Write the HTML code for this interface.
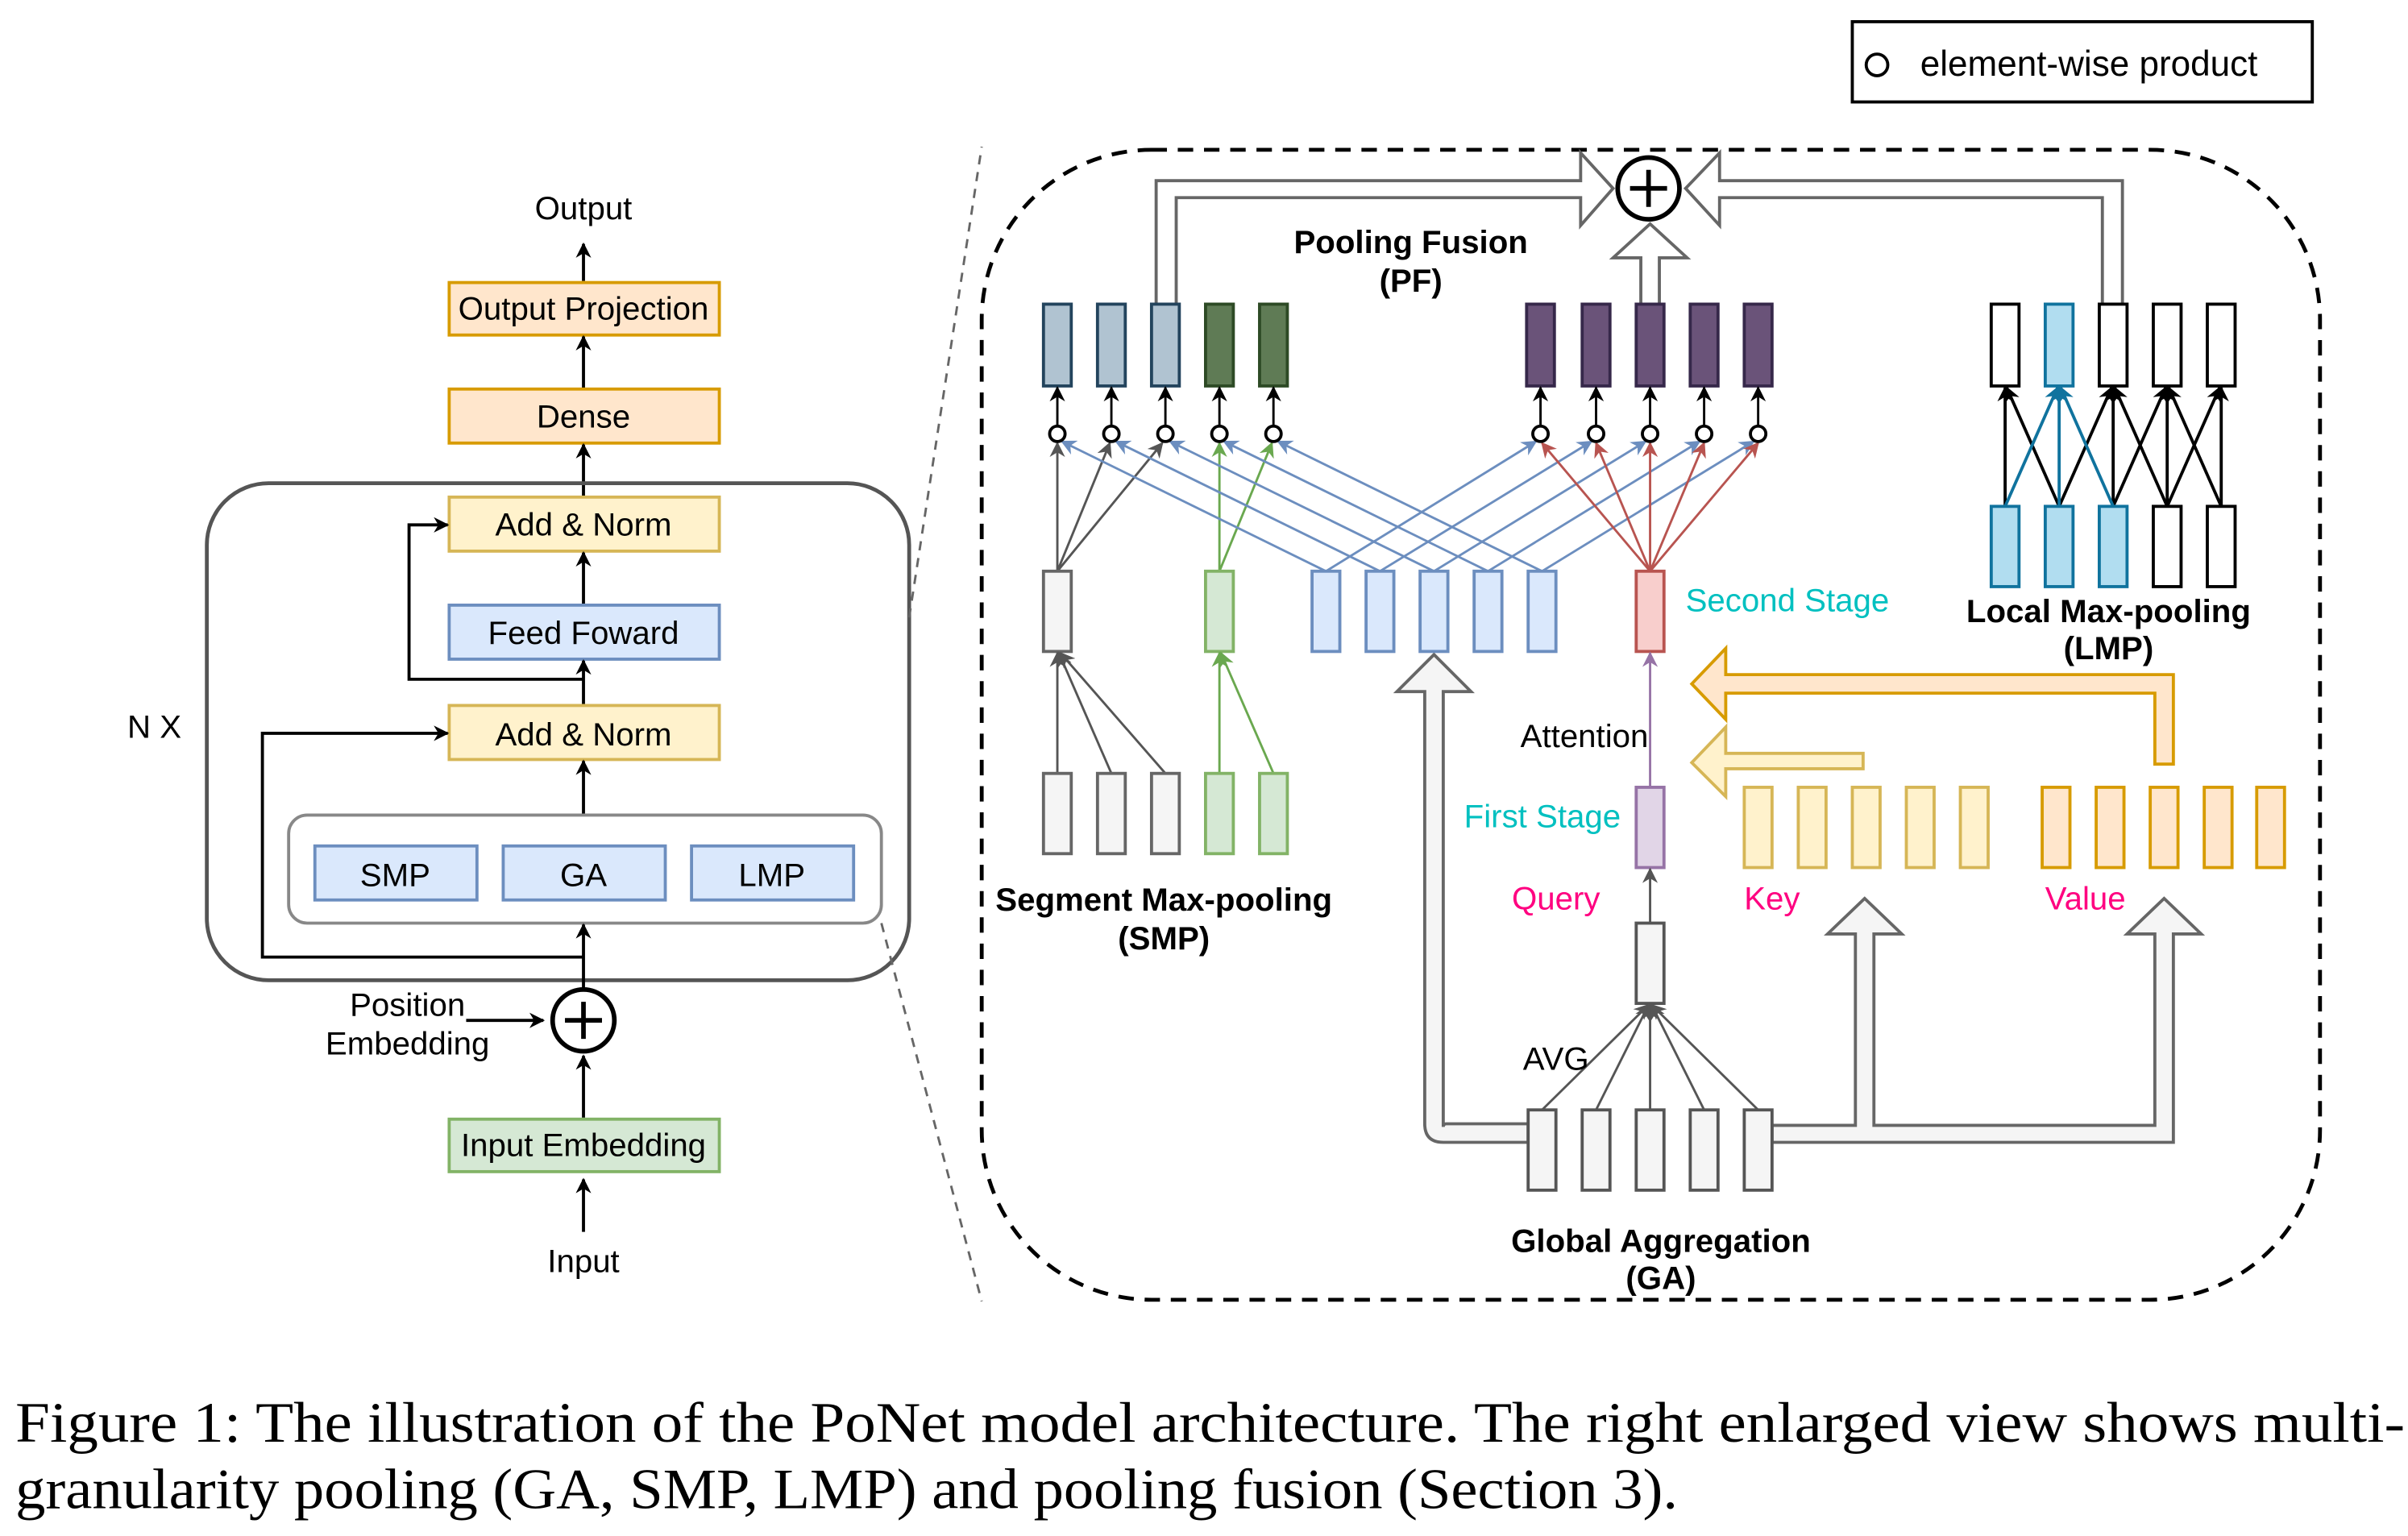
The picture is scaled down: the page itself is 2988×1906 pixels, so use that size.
<!DOCTYPE html>
<html><head><meta charset="utf-8"><style>
html,body{margin:0;padding:0;background:#fff;}
svg{display:block;}
text{font-family:"Liberation Sans",sans-serif;}
</style></head><body>
<svg xmlns="http://www.w3.org/2000/svg" width="2988" height="1906" viewBox="0 0 1560 995">
<defs>
<marker id="ab" markerWidth="10" markerHeight="10" refX="9" refY="5" orient="auto" markerUnits="userSpaceOnUse"><path d="M0,0 L10,5 L0,10 L3,5 z" fill="#000"/></marker>
<marker id="ag" markerWidth="10" markerHeight="10" refX="9" refY="5" orient="auto" markerUnits="userSpaceOnUse"><path d="M0,0 L10,5 L0,10 L3,5 z" fill="#555"/></marker>
<marker id="agr" markerWidth="10" markerHeight="10" refX="9" refY="5" orient="auto" markerUnits="userSpaceOnUse"><path d="M0,0 L10,5 L0,10 L3,5 z" fill="#6aa84f"/></marker>
<marker id="abl" markerWidth="10" markerHeight="10" refX="9" refY="5" orient="auto" markerUnits="userSpaceOnUse"><path d="M0,0 L10,5 L0,10 L3,5 z" fill="#6c8ebf"/></marker>
<marker id="ar" markerWidth="10" markerHeight="10" refX="9" refY="5" orient="auto" markerUnits="userSpaceOnUse"><path d="M0,0 L10,5 L0,10 L3,5 z" fill="#b85450"/></marker>
<marker id="ap" markerWidth="10" markerHeight="10" refX="9" refY="5" orient="auto" markerUnits="userSpaceOnUse"><path d="M0,0 L10,5 L0,10 L3,5 z" fill="#9673a6"/></marker>
<marker id="alb" markerWidth="10" markerHeight="10" refX="9" refY="5" orient="auto" markerUnits="userSpaceOnUse"><path d="M0,0 L10,5 L0,10 L3,5 z" fill="#10739e"/></marker>
</defs>

<rect x="1200" y="14" width="298" height="52" fill="#fff" stroke="#000" stroke-width="2"/>
<circle cx="1216" cy="42" r="7" fill="none" stroke="#000" stroke-width="2"/>
<text x="1244" y="49" font-size="23">element-wise product</text>

<g font-size="21" text-anchor="middle">
<text x="378" y="142">Output</text>
<line x1="378" y1="182" x2="378" y2="158" stroke="#000" stroke-width="2" marker-end="url(#ab)"/>
<rect x="291" y="183" width="175" height="34" fill="#ffe6cc" stroke="#d79b00" stroke-width="2"/>
<text x="378" y="207">Output Projection</text>
<line x1="378" y1="252" x2="378" y2="218" stroke="#000" stroke-width="2" marker-end="url(#ab)"/>
<rect x="291" y="252" width="175" height="35" fill="#ffe6cc" stroke="#d79b00" stroke-width="2"/>
<text x="378" y="277">Dense</text>
<line x1="378" y1="322" x2="378" y2="288" stroke="#000" stroke-width="2" marker-end="url(#ab)"/>
<rect x="134" y="313" width="455" height="322" rx="40" fill="none" stroke="#555" stroke-width="2.5"/>
<rect x="291" y="322" width="175" height="35" fill="#fff2cc" stroke="#d6b656" stroke-width="2"/>
<text x="378" y="347">Add &amp; Norm</text>
<line x1="378" y1="392" x2="378" y2="358" stroke="#000" stroke-width="2" marker-end="url(#ab)"/>
<rect x="291" y="392" width="175" height="35" fill="#dae8fc" stroke="#6c8ebf" stroke-width="2"/>
<text x="378" y="417">Feed Foward</text>
<line x1="378" y1="457" x2="378" y2="428" stroke="#000" stroke-width="2" marker-end="url(#ab)"/>
<polyline points="378,440 265,440 265,340 290,340" fill="none" stroke="#000" stroke-width="2" marker-end="url(#ab)"/>
<rect x="291" y="457" width="175" height="35" fill="#fff2cc" stroke="#d6b656" stroke-width="2"/>
<text x="378" y="483">Add &amp; Norm</text>
<line x1="378" y1="528" x2="378" y2="493" stroke="#000" stroke-width="2" marker-end="url(#ab)"/>
<rect x="187" y="528" width="384" height="70" rx="12" fill="none" stroke="#888" stroke-width="2"/>
<rect x="204" y="548" width="105" height="35" fill="#dae8fc" stroke="#6c8ebf" stroke-width="2"/>
<text x="256" y="574">SMP</text>
<rect x="326" y="548" width="105" height="35" fill="#dae8fc" stroke="#6c8ebf" stroke-width="2"/>
<text x="378" y="574">GA</text>
<rect x="448" y="548" width="105" height="35" fill="#dae8fc" stroke="#6c8ebf" stroke-width="2"/>
<text x="500" y="574">LMP</text>
<line x1="378" y1="640" x2="378" y2="599" stroke="#000" stroke-width="2" marker-end="url(#ab)"/>
<polyline points="378,620 170,620 170,475 290,475" fill="none" stroke="#000" stroke-width="2" marker-end="url(#ab)"/>
<text x="100" y="478">N X</text>
<circle cx="378" cy="661" r="20" fill="#fff" stroke="#000" stroke-width="3"/>
<line x1="366" y1="661" x2="390" y2="661" stroke="#000" stroke-width="3"/>
<line x1="378" y1="649" x2="378" y2="673" stroke="#000" stroke-width="3"/>
<text x="264" y="658">Position</text>
<text x="264" y="683">Embedding</text>
<line x1="302" y1="661" x2="352" y2="661" stroke="#000" stroke-width="2" marker-end="url(#ab)"/>
<line x1="378" y1="724" x2="378" y2="684" stroke="#000" stroke-width="2" marker-end="url(#ab)"/>
<rect x="291" y="725" width="175" height="34" fill="#d5e8d4" stroke="#82b366" stroke-width="2"/>
<text x="378" y="749">Input Embedding</text>
<line x1="378" y1="798" x2="378" y2="764" stroke="#000" stroke-width="2" marker-end="url(#ab)"/>
<text x="378" y="824">Input</text>
</g>
<line x1="589" y1="400" x2="636" y2="95" stroke="#666" stroke-width="1.5" stroke-dasharray="6,5"/>
<line x1="571" y1="598" x2="636" y2="843" stroke="#666" stroke-width="1.5" stroke-dasharray="6,5"/>

<rect x="636" y="97" width="867" height="745" rx="110" fill="none" stroke="#000" stroke-width="2.5" stroke-dasharray="10,7"/>

<path d="M749,197 L749,117 L1024,117 L1024,99 L1045,122 L1024,146 L1024,128 L762,128 L762,197 Z" fill="#fff" stroke="#666" stroke-width="2"/>
<path d="M1375,197 L1375,117 L1114,117 L1114,99 L1092,122 L1114,146 L1114,128 L1362,128 L1362,197 Z" fill="#fff" stroke="#666" stroke-width="2"/>
<path d="M1063,197 L1063,167 L1045,167 L1069,145 L1093,167 L1075,167 L1075,197 Z" fill="#fff" stroke="#666" stroke-width="2"/>
<circle cx="1068" cy="122" r="20" fill="#fff" stroke="#000" stroke-width="3"/>
<line x1="1056" y1="122" x2="1080" y2="122" stroke="#000" stroke-width="3"/>
<line x1="1068" y1="110" x2="1068" y2="134" stroke="#000" stroke-width="3"/>

<g font-weight="bold" font-size="21" text-anchor="middle">
<text x="914" y="164">Pooling Fusion</text>
<text x="914" y="189">(PF)</text>
<text x="754" y="590">Segment Max-pooling</text>
<text x="754" y="615">(SMP)</text>
<text x="1366" y="403">Local Max-pooling</text>
<text x="1366" y="427">(LMP)</text>
<text x="1076" y="811">Global Aggregation</text>
<text x="1076" y="835">(GA)</text>
</g>

<g stroke-width="2">
<rect x="676" y="197" width="18" height="53" fill="#b0c3d1" stroke="#23445d"/>
<rect x="711" y="197" width="18" height="53" fill="#b0c3d1" stroke="#23445d"/>
<rect x="746" y="197" width="18" height="53" fill="#b0c3d1" stroke="#23445d"/>
<rect x="781" y="197" width="18" height="53" fill="#5f7b55" stroke="#2d4a25"/>
<rect x="816" y="197" width="18" height="53" fill="#5f7b55" stroke="#2d4a25"/>
<rect x="989" y="197" width="18" height="53" fill="#6a5379" stroke="#36284a"/>
<rect x="1025" y="197" width="18" height="53" fill="#6a5379" stroke="#36284a"/>
<rect x="1060" y="197" width="18" height="53" fill="#6a5379" stroke="#36284a"/>
<rect x="1095" y="197" width="18" height="53" fill="#6a5379" stroke="#36284a"/>
<rect x="1130" y="197" width="18" height="53" fill="#6a5379" stroke="#36284a"/>
</g>
<g stroke="#000" stroke-width="1.5">
<line x1="685" y1="276" x2="685" y2="251" marker-end="url(#ab)"/>
<line x1="720" y1="276" x2="720" y2="251" marker-end="url(#ab)"/>
<line x1="755" y1="276" x2="755" y2="251" marker-end="url(#ab)"/>
<line x1="790" y1="276" x2="790" y2="251" marker-end="url(#ab)"/>
<line x1="825" y1="276" x2="825" y2="251" marker-end="url(#ab)"/>
<line x1="998" y1="276" x2="998" y2="251" marker-end="url(#ab)"/>
<line x1="1034" y1="276" x2="1034" y2="251" marker-end="url(#ab)"/>
<line x1="1069" y1="276" x2="1069" y2="251" marker-end="url(#ab)"/>
<line x1="1104" y1="276" x2="1104" y2="251" marker-end="url(#ab)"/>
<line x1="1139" y1="276" x2="1139" y2="251" marker-end="url(#ab)"/>
</g>
<g stroke="#555" stroke-width="1.5" fill="none">
<line x1="685" y1="370" x2="685" y2="287" marker-end="url(#ag)"/>
<line x1="685" y1="370" x2="719" y2="287" marker-end="url(#ag)"/>
<line x1="685" y1="370" x2="753" y2="287" marker-end="url(#ag)"/>
</g>
<g stroke="#6aa84f" stroke-width="1.5">
<line x1="790" y1="370" x2="790" y2="287" marker-end="url(#agr)"/>
<line x1="790" y1="370" x2="824" y2="287" marker-end="url(#agr)"/>
</g>
<g stroke="#6c8ebf" stroke-width="1.5">
<line x1="859" y1="370" x2="688" y2="286" marker-end="url(#abl)"/>
<line x1="894" y1="370" x2="723" y2="286" marker-end="url(#abl)"/>
<line x1="929" y1="370" x2="758" y2="286" marker-end="url(#abl)"/>
<line x1="964" y1="370" x2="793" y2="286" marker-end="url(#abl)"/>
<line x1="999" y1="370" x2="828" y2="286" marker-end="url(#abl)"/>
<line x1="859" y1="370" x2="995" y2="286" marker-end="url(#abl)"/>
<line x1="894" y1="370" x2="1031" y2="286" marker-end="url(#abl)"/>
<line x1="929" y1="370" x2="1066" y2="286" marker-end="url(#abl)"/>
<line x1="964" y1="370" x2="1101" y2="286" marker-end="url(#abl)"/>
<line x1="999" y1="370" x2="1136" y2="286" marker-end="url(#abl)"/>
</g>
<g stroke="#b85450" stroke-width="1.5">
<line x1="1069" y1="370" x2="999" y2="287" marker-end="url(#ar)"/>
<line x1="1069" y1="370" x2="1034" y2="287" marker-end="url(#ar)"/>
<line x1="1069" y1="370" x2="1069" y2="287" marker-end="url(#ar)"/>
<line x1="1069" y1="370" x2="1104" y2="287" marker-end="url(#ar)"/>
<line x1="1069" y1="370" x2="1139" y2="287" marker-end="url(#ar)"/>
</g>
<g fill="#fff" stroke="#000" stroke-width="2">
<circle cx="685" cy="281" r="5"/><circle cx="720" cy="281" r="5"/><circle cx="755" cy="281" r="5"/><circle cx="790" cy="281" r="5"/><circle cx="825" cy="281" r="5"/>
<circle cx="998" cy="281" r="5"/><circle cx="1034" cy="281" r="5"/><circle cx="1069" cy="281" r="5"/><circle cx="1104" cy="281" r="5"/><circle cx="1139" cy="281" r="5"/>
</g>

<path d="M990,740 L935,740 Q923,740 923,728 L923,448 L905,448 L929,424 L953,448 L935,448 L935,730 Q935,728 937,728 L990,728 Z" fill="#f5f5f5" stroke="#666" stroke-width="2"/>
<path d="M1148,740 L1408,740 L1408,605 L1426,605 L1402,582 L1378,605 L1396,605 L1396,729 L1214,729 L1214,605 L1232,605 L1208,582 L1184,605 L1202,605 L1202,729 L1148,729 Z" fill="#f5f5f5" stroke="#666" stroke-width="2"/>

<path d="M1408,495 L1408,437 L1118,437 L1118,420 L1096,443 L1118,466 L1118,449 L1396,449 L1396,495 Z" fill="#ffe6cc" stroke="#d79b00" stroke-width="2"/>
<path d="M1207,488 L1118,488 L1118,471 L1096,494 L1118,516 L1118,498 L1207,498 Z" fill="#fff2cc" stroke="#d6b656" stroke-width="2"/>

<g stroke-width="2">
<rect x="676" y="370" width="18" height="52" fill="#f5f5f5" stroke="#666"/>
<rect x="781" y="370" width="18" height="52" fill="#d5e8d4" stroke="#82b366"/>
<rect x="850" y="370" width="18" height="52" fill="#dae8fc" stroke="#6c8ebf"/>
<rect x="885" y="370" width="18" height="52" fill="#dae8fc" stroke="#6c8ebf"/>
<rect x="920" y="370" width="18" height="52" fill="#dae8fc" stroke="#6c8ebf"/>
<rect x="955" y="370" width="18" height="52" fill="#dae8fc" stroke="#6c8ebf"/>
<rect x="990" y="370" width="18" height="52" fill="#dae8fc" stroke="#6c8ebf"/>
<rect x="1060" y="370" width="18" height="52" fill="#f8cecc" stroke="#b85450"/>
</g>
<g stroke="#555" stroke-width="1.5">
<line x1="685" y1="501" x2="685" y2="423" marker-end="url(#ag)"/>
<line x1="720" y1="501" x2="686" y2="423" marker-end="url(#ag)"/>
<line x1="755" y1="501" x2="687" y2="423" marker-end="url(#ag)"/>
</g>
<g stroke="#6aa84f" stroke-width="1.5">
<line x1="790" y1="501" x2="790" y2="423" marker-end="url(#agr)"/>
<line x1="825" y1="501" x2="791" y2="423" marker-end="url(#agr)"/>
</g>
<g stroke-width="2">
<rect x="676" y="501" width="18" height="52" fill="#f5f5f5" stroke="#666"/>
<rect x="711" y="501" width="18" height="52" fill="#f5f5f5" stroke="#666"/>
<rect x="746" y="501" width="18" height="52" fill="#f5f5f5" stroke="#666"/>
<rect x="781" y="501" width="18" height="52" fill="#d5e8d4" stroke="#82b366"/>
<rect x="816" y="501" width="18" height="52" fill="#d5e8d4" stroke="#82b366"/>
</g>

<line x1="1069" y1="510" x2="1069" y2="423" stroke="#9673a6" stroke-width="1.5" marker-end="url(#ap)"/>
<rect x="1060" y="510" width="18" height="52" fill="#e1d5e7" stroke="#9673a6" stroke-width="2"/>
<line x1="1069" y1="598" x2="1069" y2="563" stroke="#555" stroke-width="1.5" marker-end="url(#ag)"/>
<rect x="1060" y="598" width="18" height="52" fill="#f5f5f5" stroke="#555" stroke-width="2"/>
<g stroke="#555" stroke-width="1.5">
<line x1="999" y1="719" x2="1068" y2="651" marker-end="url(#ag)"/>
<line x1="1034" y1="719" x2="1068" y2="651" marker-end="url(#ag)"/>
<line x1="1069" y1="719" x2="1069" y2="651" marker-end="url(#ag)"/>
<line x1="1104" y1="719" x2="1070" y2="651" marker-end="url(#ag)"/>
<line x1="1139" y1="719" x2="1070" y2="651" marker-end="url(#ag)"/>
</g>
<g stroke-width="2" fill="#f5f5f5" stroke="#555">
<rect x="990" y="719" width="18" height="52"/>
<rect x="1025" y="719" width="18" height="52"/>
<rect x="1060" y="719" width="18" height="52"/>
<rect x="1095" y="719" width="18" height="52"/>
<rect x="1130" y="719" width="18" height="52"/>
</g>
<g stroke-width="2">
<rect x="1130" y="510" width="18" height="52" fill="#fff2cc" stroke="#d6b656"/>
<rect x="1165" y="510" width="18" height="52" fill="#fff2cc" stroke="#d6b656"/>
<rect x="1200" y="510" width="18" height="52" fill="#fff2cc" stroke="#d6b656"/>
<rect x="1235" y="510" width="18" height="52" fill="#fff2cc" stroke="#d6b656"/>
<rect x="1270" y="510" width="18" height="52" fill="#fff2cc" stroke="#d6b656"/>
<rect x="1323" y="510" width="18" height="52" fill="#ffe6cc" stroke="#d79b00"/>
<rect x="1358" y="510" width="18" height="52" fill="#ffe6cc" stroke="#d79b00"/>
<rect x="1393" y="510" width="18" height="52" fill="#ffe6cc" stroke="#d79b00"/>
<rect x="1428" y="510" width="18" height="52" fill="#ffe6cc" stroke="#d79b00"/>
<rect x="1462" y="510" width="18" height="52" fill="#ffe6cc" stroke="#d79b00"/>
</g>
<g font-size="21">
<text x="985" y="484">Attention</text>
<text x="1050" y="536" text-anchor="end" fill="#00c0c0">First Stage</text>
<text x="1092" y="396" fill="#00c0c0">Second Stage</text>
<text x="1008" y="589" text-anchor="middle" fill="#ff0080">Query</text>
<text x="1148" y="589" text-anchor="middle" fill="#ff0080">Key</text>
<text x="1351" y="589" text-anchor="middle" fill="#ff0080">Value</text>
<text x="1008" y="693" text-anchor="middle">AVG</text>
</g>

<g stroke="#000" stroke-width="2">
<line x1="1299" y1="328" x2="1299" y2="251" marker-end="url(#ab)"/>
<line x1="1334" y1="328" x2="1300" y2="251" marker-end="url(#ab)"/>
<line x1="1334" y1="328" x2="1368" y2="251" marker-end="url(#ab)"/>
<line x1="1369" y1="328" x2="1369" y2="251" marker-end="url(#ab)"/>
<line x1="1369" y1="328" x2="1403" y2="251" marker-end="url(#ab)"/>
<line x1="1404" y1="328" x2="1370" y2="251" marker-end="url(#ab)"/>
<line x1="1404" y1="328" x2="1404" y2="251" marker-end="url(#ab)"/>
<line x1="1404" y1="328" x2="1438" y2="251" marker-end="url(#ab)"/>
<line x1="1439" y1="328" x2="1405" y2="251" marker-end="url(#ab)"/>
<line x1="1439" y1="328" x2="1439" y2="251" marker-end="url(#ab)"/>
</g>
<g stroke="#10739e" stroke-width="2">
<line x1="1299" y1="328" x2="1333" y2="251" marker-end="url(#alb)"/>
<line x1="1334" y1="328" x2="1334" y2="251" marker-end="url(#alb)"/>
<line x1="1369" y1="328" x2="1335" y2="251" marker-end="url(#alb)"/>
</g>
<g stroke-width="2">
<rect x="1290" y="197" width="18" height="53" fill="#fff" stroke="#000"/>
<rect x="1325" y="197" width="18" height="53" fill="#b1ddf0" stroke="#10739e"/>
<rect x="1360" y="197" width="18" height="53" fill="#fff" stroke="#000"/>
<rect x="1395" y="197" width="18" height="53" fill="#fff" stroke="#000"/>
<rect x="1430" y="197" width="18" height="53" fill="#fff" stroke="#000"/>
<rect x="1290" y="328" width="18" height="52" fill="#b1ddf0" stroke="#10739e"/>
<rect x="1325" y="328" width="18" height="52" fill="#b1ddf0" stroke="#10739e"/>
<rect x="1360" y="328" width="18" height="52" fill="#b1ddf0" stroke="#10739e"/>
<rect x="1395" y="328" width="18" height="52" fill="#fff" stroke="#000"/>
<rect x="1430" y="328" width="18" height="52" fill="#fff" stroke="#000"/>
</g>

<text x="10" y="934" font-size="37" textLength="1548" lengthAdjust="spacingAndGlyphs" style="font-family:'Liberation Serif',serif">Figure 1: The illustration of the PoNet model architecture. The right enlarged view shows multi-</text>
<text x="10" y="977" font-size="37" textLength="1077" lengthAdjust="spacingAndGlyphs" style="font-family:'Liberation Serif',serif">granularity pooling (GA, SMP, LMP) and pooling fusion (Section 3).</text>
</svg>
</body></html>
